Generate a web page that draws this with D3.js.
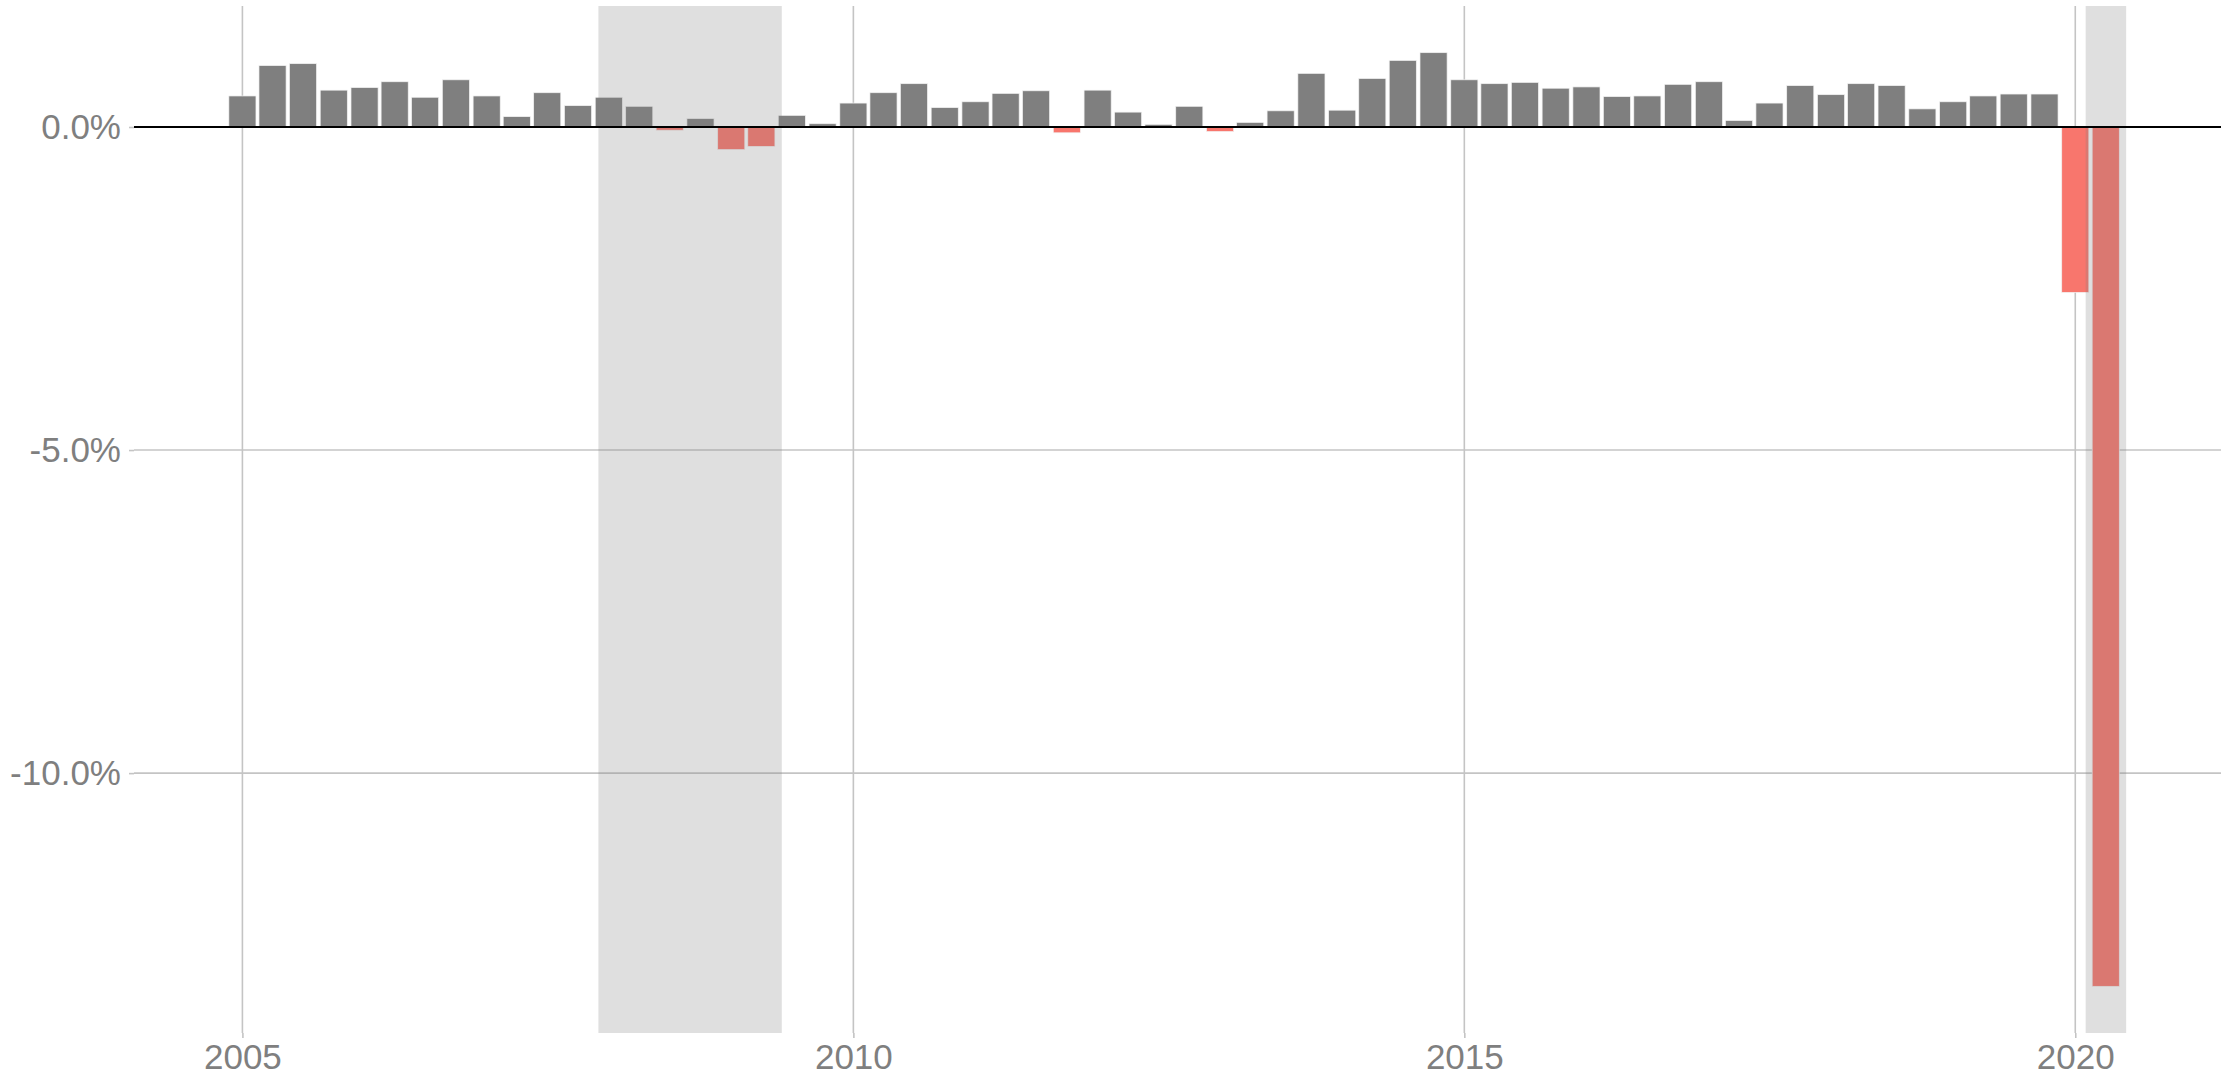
<!DOCTYPE html>
<html>
<head>
<meta charset="utf-8">
<script src="https://cdn.jsdelivr.net/npm/d3@7"></script>
<style>
  body { margin: 0; background: #fff; }
  svg { display: block; }
  text { font-family: "Liberation Sans", Arial, sans-serif; }
</style>
</head>
<body>
<svg id="chart"></svg>
<script>
// quarterly growth, quarter start dates
const quarters = [
  '2005-01-01','2005-04-01','2005-07-01','2005-10-01',
  '2006-01-01','2006-04-01','2006-07-01','2006-10-01',
  '2007-01-01','2007-04-01','2007-07-01','2007-10-01',
  '2008-01-01','2008-04-01','2008-07-01','2008-10-01',
  '2009-01-01','2009-04-01','2009-07-01','2009-10-01',
  '2010-01-01','2010-04-01','2010-07-01','2010-10-01',
  '2011-01-01','2011-04-01','2011-07-01','2011-10-01',
  '2012-01-01','2012-04-01','2012-07-01','2012-10-01',
  '2013-01-01','2013-04-01','2013-07-01','2013-10-01',
  '2014-01-01','2014-04-01','2014-07-01','2014-10-01',
  '2015-01-01','2015-04-01','2015-07-01','2015-10-01',
  '2016-01-01','2016-04-01','2016-07-01','2016-10-01',
  '2017-01-01','2017-04-01','2017-07-01','2017-10-01',
  '2018-01-01','2018-04-01','2018-07-01','2018-10-01',
  '2019-01-01','2019-04-01','2019-07-01','2019-10-01',
  '2020-01-01','2020-04-01'
]

const growth = [
  0.48, 0.95, 0.98, 0.57,
  0.61, 0.70, 0.46, 0.73,
  0.48, 0.16, 0.53, 0.33,
  0.46, 0.32, -0.05, 0.13,
  -0.35, -0.30, 0.18, 0.05,
  0.37, 0.53, 0.67, 0.30,
  0.39, 0.52, 0.56, -0.09,
  0.57, 0.23, 0.04, 0.32,
  -0.07, 0.07, 0.25, 0.83,
  0.26, 0.75, 1.03, 1.15,
  0.73, 0.67, 0.69, 0.60,
  0.62, 0.47, 0.48, 0.66,
  0.70, 0.10, 0.37, 0.64,
  0.50, 0.67, 0.64, 0.28,
  0.39, 0.48, 0.51, 0.51,
  -2.56, -13.30
]

// recession periods (start, end)
const recStart = ['2007-12-01', '2020-02-01']
const recEnd = ['2009-06-01', '2020-06-01']

const xTicks = ['2005-01-01', '2010-01-01', '2015-01-01', '2020-01-01']
const yTicks = [0, -5, -10]

const parseDate = d3.timeParse('%Y-%m-%d')
const DAY = 24 * 3600 * 1000
const halfBar = 40.5 * DAY   // 0.9 * 90 days / 2

const data = quarters.map((q, i) => ({date: parseDate(q), value: growth[i]}))
const recessions = recStart.map((s, i) => ({start: parseDate(s), end: parseDate(recEnd[i])}))

const width = 2228
const height = 1081
const panel = {left: 134, right: 2221, top: 6, bottom: 1033}

const svg = d3.select('#chart')
  .attr('width', width)
  .attr('height', height)

// x domain like ggplot: data range + 5% on each side
let xMin = d3.min([d3.min(data, d => +d.date - halfBar), d3.min(recessions, d => +d.start)])
let xMax = d3.max([d3.max(data, d => +d.date + halfBar), d3.max(recessions, d => +d.end)])
const xPad = (xMax - xMin) * 0.05

const x = d3.scaleTime()
  .domain([new Date(xMin - xPad), new Date(xMax + xPad)])
  .range([panel.left, panel.right])

const yMin = d3.min(growth)
const yMax = d3.max(growth)
const yPad = (yMax - yMin) * 0.05

const y = d3.scaleLinear()
  .domain([yMin - yPad, yMax + yPad])
  .range([panel.bottom, panel.top])

// grid
svg.append('g')
  .selectAll('line')
  .data(xTicks.map(parseDate))
  .join('line')
    .attr('x1', d => x(d)).attr('x2', d => x(d))
    .attr('y1', panel.top).attr('y2', panel.bottom)
    .attr('stroke', '#c4c4c4')
    .attr('stroke-width', 1.6)

svg.append('g')
  .selectAll('line')
  .data(yTicks.filter(d => d !== 0))
  .join('line')
    .attr('x1', panel.left).attr('x2', panel.right)
    .attr('y1', d => y(d)).attr('y2', d => y(d))
    .attr('stroke', '#c4c4c4')
    .attr('stroke-width', 1.6)

// bars
svg.append('g')
  .selectAll('rect')
  .data(data)
  .join('rect')
    .attr('x', d => x(new Date(+d.date - halfBar)))
    .attr('width', d => x(new Date(+d.date + halfBar)) - x(new Date(+d.date - halfBar)))
    .attr('y', d => y(Math.max(0, d.value)))
    .attr('height', d => Math.abs(y(d.value) - y(0)))
    .attr('fill', d => d.value < 0 ? '#f8766d' : '#7f7f7f')
    .attr('stroke', '#f2f2f2')
    .attr('stroke-width', 0.7)

// recession shading on top
svg.append('g')
  .selectAll('rect')
  .data(recessions)
  .join('rect')
    .attr('x', d => x(d.start))
    .attr('width', d => x(d.end) - x(d.start))
    .attr('y', panel.top)
    .attr('height', panel.bottom - panel.top)
    .attr('fill', '#7f7f7f')
    .attr('fill-opacity', 0.25)

// zero line
svg.append('line')
  .attr('x1', panel.left).attr('x2', panel.right)
  .attr('y1', y(0)).attr('y2', y(0))
  .attr('stroke', '#000')
  .attr('stroke-width', 2)

// axes
const xAxis = svg.append('g')
  .attr('transform', 'translate(0,' + panel.bottom + ')')
  .call(d3.axisBottom(x).tickValues(xTicks.map(parseDate)).tickFormat(d3.timeFormat('%Y')).tickSize(5).tickPadding(6))

const yAxis = svg.append('g')
  .attr('transform', 'translate(' + panel.left + ',0)')
  .call(d3.axisLeft(y).tickValues(yTicks).tickFormat(d => d3.format('.1f')(d).replace('−', '-') + '%').tickSize(5).tickPadding(8))

;[xAxis, yAxis].forEach(a => {
  a.select('.domain').remove()
  a.selectAll('.tick line').attr('stroke', '#c4c4c4').attr('stroke-width', 1.6)
  a.selectAll('.tick text')
    .attr('fill', '#7f7f7f')
    .attr('font-size', '35px')
    .attr('font-family', '"Liberation Sans", Arial, sans-serif')
})
</script>
</body>
</html>
